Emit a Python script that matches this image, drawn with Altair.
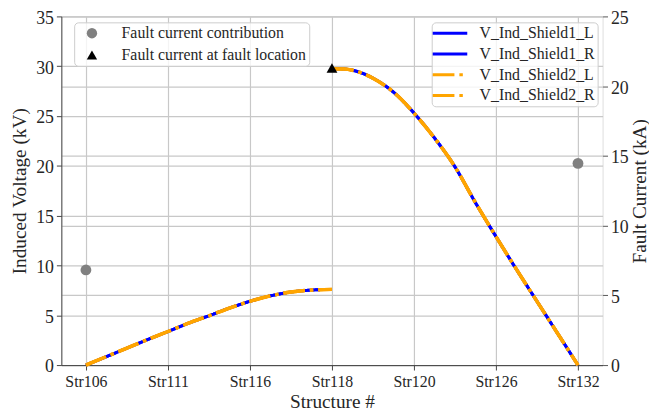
import altair as alt
import pandas as pd

# ---------------- data ----------------
x_labels = ["Str106", "Str111", "Str116", "Str118", "Str120", "Str126", "Str132"]

# induced voltage, segment Str106 -> Str118 (position index, kV)
seg1_pos = [0, 0.25, 0.5, 0.75, 1.0, 1.25, 1.5, 1.75, 2.0, 2.25, 2.5, 2.75, 3.0]
seg1_kv = [0.0, 0.85, 1.7, 2.55, 3.37, 4.2, 4.95, 5.72, 6.4, 6.95, 7.33, 7.53, 7.6]

# induced voltage, segment Str118 -> Str132
seg2_pos = [3.0, 3.15, 3.25, 3.5, 3.75, 4.0, 4.25, 4.5, 4.75, 5.0, 5.25, 5.5, 5.75, 6.0]
seg2_kv = [29.75, 29.72, 29.6, 28.8, 27.4, 25.3, 22.8, 19.9, 16.3, 12.9, 9.6, 6.4, 3.2, 0.0]

series_names = ["V_Ind_Shield1_L", "V_Ind_Shield1_R", "V_Ind_Shield2_L", "V_Ind_Shield2_R"]
series_colors = ["#0000ff", "#0000ff", "#ffa500", "#ffa500"]
series_dash = [[1, 0], [1, 0], [22, 5, 3.5, 5], [22, 5, 3.5, 5]]

point_pos = [0, 6, 3]
point_ka = [6.82, 14.46, 21.3]
point_kind = ["Fault current contribution", "Fault current contribution",
              "Fault current at fault location"]
kind_names = ["Fault current contribution", "Fault current at fault location"]
kind_colors = ["#808080", "#000000"]
kind_shapes = ["circle", "triangle-up"]

# ---------------- tables ----------------
rows = []
for s in series_names:
    for p, v in zip(seg1_pos, seg1_kv):
        rows.append({"pos": p, "kV": v, "series": s, "seg": 1})
    for p, v in zip(seg2_pos, seg2_kv):
        rows.append({"pos": p, "kV": v, "series": s, "seg": 2})
lines_df = pd.DataFrame(rows)
points_df = pd.DataFrame({"pos": point_pos, "kA": point_ka, "kind": point_kind})

FONT = "Liberation Serif"
TXT = "#262626"
GRID = "#c8c8c8"

label_expr = "[" + ",".join("'%s'" % s for s in x_labels) + "][round(datum.value)]"

x_enc = alt.X(
    "pos:Q",
    scale=alt.Scale(domain=[-0.3, 6.3], nice=False, zero=False),
    axis=alt.Axis(
        values=list(range(len(x_labels))), labelExpr=label_expr, title="Structure #",
        grid=True, gridColor=GRID, gridWidth=1.2, domainColor="#444", tickColor="#444",
        tickSize=5, labelFontSize=16, titleFontSize=19.5, labelPadding=4, titlePadding=3,
        labelFont=FONT, titleFont=FONT, labelColor=TXT, titleColor=TXT, titleFontWeight="normal",
    ),
)

y_left = alt.Y(
    "kV:Q",
    scale=alt.Scale(domain=[0, 35], nice=False),
    axis=alt.Axis(
        values=[0, 5, 10, 15, 20, 25, 30, 35], title="Induced Voltage (kV)",
        grid=True, gridColor=GRID, gridWidth=1.2, domainColor="#444", tickColor="#444",
        tickSize=5, labelFontSize=18, titleFontSize=19.5, labelPadding=3, titlePadding=6,
        labelOffset=2,
        labelFont=FONT, titleFont=FONT, labelColor=TXT, titleColor=TXT, titleFontWeight="normal",
    ),
)

line_legend = dict(
    title=None, orient="none", legendX=375, legendY=6,
    fillColor="rgba(255,255,255,0.8)", strokeColor="#cccccc", cornerRadius=4, padding=3,
    symbolType="M-3.5,0H3.5", symbolSize=100, symbolStrokeWidth=3, symbolOffset=7.5,
    labelOffset=22, rowPadding=5, labelFontSize=16, labelFont=FONT, labelColor=TXT,
    labelLimit=400,
)
color_enc = alt.Color(
    "series:N",
    scale=alt.Scale(domain=series_names, range=series_colors),
    legend=alt.Legend(**line_legend),
)
dash_enc = alt.StrokeDash(
    "series:N",
    scale=alt.Scale(domain=series_names, range=series_dash),
    legend=alt.Legend(**line_legend),
)

base_lines = alt.Chart(lines_df).encode(
    x=x_enc, y=y_left, color=color_enc, strokeDash=dash_enc, detail="seg:N"
)
blue = base_lines.transform_filter(
    alt.FieldOneOfPredicate(field="series", oneOf=series_names[:2])
).mark_line(strokeWidth=3, interpolate="monotone")
orange = base_lines.transform_filter(
    alt.FieldOneOfPredicate(field="series", oneOf=series_names[2:])
).mark_line(strokeWidth=3.5, interpolate="monotone")
lines = alt.layer(blue, orange)

point_legend = dict(
    title=None, orient="none", legendX=13, legendY=6,
    fillColor="rgba(255,255,255,0.8)", strokeColor="#cccccc",
    cornerRadius=4, padding=3, symbolSize=110, symbolOffset=7,
    labelOffset=22, rowPadding=5, labelFontSize=16, labelFont=FONT,
    labelColor=TXT, symbolOpacity=1, labelLimit=400,
)

points = alt.Chart(points_df).mark_point(filled=True, size=120, opacity=1).encode(
    x=x_enc,
    y=alt.Y(
        "kA:Q",
        scale=alt.Scale(domain=[0, 25], nice=False),
        axis=alt.Axis(
            orient="right", values=[0, 5, 10, 15, 20, 25], title="Fault Current (kA)",
            grid=True, gridColor=GRID, gridWidth=1.2, domain=False, tickColor="#555",
            tickSize=5, labelFontSize=18, titleFontSize=19.5, labelPadding=3, titlePadding=2,
            labelOffset=2, titleAngle=270, titleBaseline="top",
            labelFont=FONT, titleFont=FONT, labelColor=TXT, titleColor=TXT,
            titleFontWeight="normal",
        ),
    ),
    shape=alt.Shape("kind:N", scale=alt.Scale(domain=kind_names, range=kind_shapes),
                    legend=alt.Legend(**point_legend)),
    color=alt.Color("kind:N", scale=alt.Scale(domain=kind_names, range=kind_colors),
                    legend=alt.Legend(**point_legend)),
)

chart = (
    alt.layer(lines, points)
    .resolve_scale(y="independent", color="independent", shape="independent",
                   strokeDash="independent")
    .properties(
        width=548, height=353,
        autosize=alt.AutoSizeParams(type="none"),
        padding={"left": 54, "top": 6, "right": 47, "bottom": 46},
        background="white",
    )
    .configure_view(stroke=None)
    .configure(font=FONT)
)

chart.save("out.html", embed_options={"renderer": "svg", "actions": False})
